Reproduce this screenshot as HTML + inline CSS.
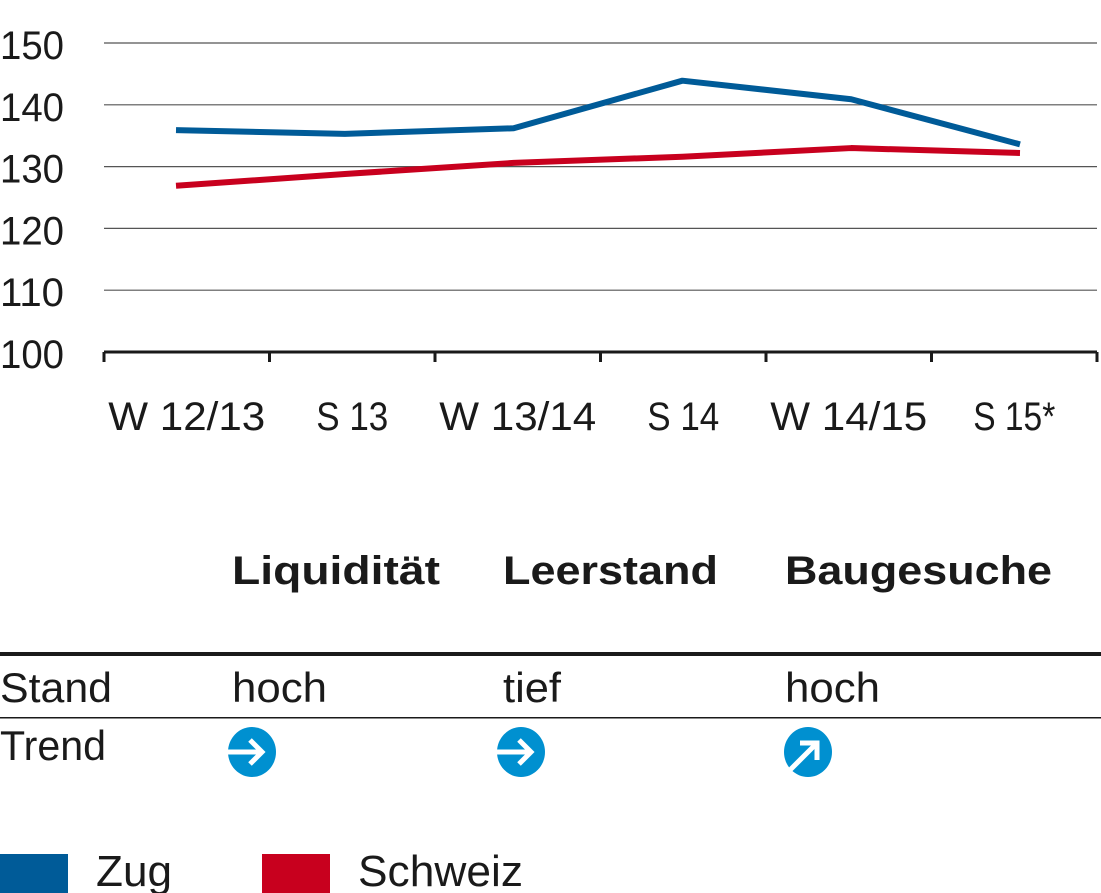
<!DOCTYPE html>
<html><head><meta charset="utf-8"><style>
html,body{margin:0;padding:0;background:#fff;}
svg{display:block;font-family:"Liberation Sans",sans-serif;}
</style></head><body>
<svg id="c" width="1101" height="893" viewBox="0 0 1101 893">
<g id="grid"></g><g id="axis"></g><g id="series"></g>
<g fill="#1a1a1a">
 <text x="232" y="584" font-size="40" font-weight="bold" textLength="208" lengthAdjust="spacingAndGlyphs">Liquidität</text>
 <text x="503" y="584" font-size="40" font-weight="bold" textLength="215" lengthAdjust="spacingAndGlyphs">Leerstand</text>
 <text x="785" y="584" font-size="40" font-weight="bold" textLength="267" lengthAdjust="spacingAndGlyphs">Baugesuche</text>
 <rect x="0" y="652" width="1101" height="4" fill="#1a1a1a"/>
 <rect x="0" y="717" width="1101" height="1.5" fill="#1a1a1a"/>
 <text x="0" y="702" font-size="42" textLength="112" lengthAdjust="spacingAndGlyphs">Stand</text>
 <text x="232" y="702" font-size="42" textLength="95" lengthAdjust="spacingAndGlyphs">hoch</text>
 <text x="503" y="702" font-size="42" textLength="58" lengthAdjust="spacingAndGlyphs">tief</text>
 <text x="785" y="702" font-size="42" textLength="95" lengthAdjust="spacingAndGlyphs">hoch</text>
 <text x="0" y="760" font-size="42" textLength="106" lengthAdjust="spacingAndGlyphs">Trend</text>
 <g transform="translate(252,752)">
  <ellipse rx="24" ry="25" fill="#0090d0"/><path d="M-24,0 H10 M-2,-12 L10,0 L-2,12" stroke="#fff" stroke-width="5" fill="none"/></g>
 <g transform="translate(521,752)">
  <ellipse rx="24" ry="25" fill="#0090d0"/><path d="M-24,0 H10 M-2,-12 L10,0 L-2,12" stroke="#fff" stroke-width="5" fill="none"/></g>
 <g transform="translate(808,752)">
  <ellipse rx="24" ry="25" fill="#0090d0"/><path d="M-18,18 L8,-8 M-8,-9 H9 V8" stroke="#fff" stroke-width="5" fill="none"/></g>
</g>
<g>
 <rect x="0" y="854" width="68" height="39" fill="#005b98"/>
 <text x="96" y="886" font-size="44" fill="#1a1a1a" textLength="76" lengthAdjust="spacingAndGlyphs">Zug</text>
 <rect x="262" y="854" width="68" height="39" fill="#c8001e"/>
 <text x="358" y="886" font-size="44" fill="#1a1a1a" textLength="165" lengthAdjust="spacingAndGlyphs">Schweiz</text>
</g>
</svg>
<script>
const categories=["W 12/13","S 13","W 13/14","S 14","W 14/15","S 15*"];
const zugValues=[135.9,135.3,136.2,143.9,140.9,133.6];
const schweizValues=[126.9,128.8,130.6,131.6,133.0,132.2];
const yTicks=[100,110,120,130,140,150];
const NS="http://www.w3.org/2000/svg";
const x0=104,x1=1097,yBase=352,yTop=43,vMin=100,vMax=150;
const labelWidths={"W 12/13":157,"S 13":72,"W 13/14":157,"S 14":72,"W 14/15":157,"S 15*":82};
function xScale(i){return x0+(i+0.5)*(x1-x0)/categories.length;}
function xLine(i){return 176+i*(1020-176)/(categories.length-1);}
function yScale(v){return yBase-(v-vMin)/(vMax-vMin)*(yBase-yTop);}
function mk(tag,attrs,parent){const e=document.createElementNS(NS,tag);for(const k in attrs)e.setAttribute(k,attrs[k]);parent.appendChild(e);return e;}
const grid=document.getElementById('grid'),axis=document.getElementById('axis'),series=document.getElementById('series');
yTicks.forEach(v=>{
 const y=yScale(v);
 if(v>vMin){const l=mk('line',{x1:x0,x2:x1,y1:y,y2:y,stroke:'#555','stroke-width':1.2},grid);
  
  }
 const t=mk('text',{x:0,y:y+16,'font-size':40,fill:'#1a1a1a',textLength:64,lengthAdjust:'spacingAndGlyphs'},axis);
 t.textContent=v;
 
 
});
const ax=mk('line',{x1:x0,x2:x1,y1:yBase,y2:yBase,stroke:'#1a1a1a','stroke-width':3},axis);


for(let i=0;i<=categories.length;i++){
 const x=x0+i*(x1-x0)/categories.length;
 const tk=mk('line',{x1:x,x2:x,y1:yBase,y2:yBase+10,stroke:'#1a1a1a','stroke-width':3},axis);
 
 
}
categories.forEach((c,i)=>{
 const w=labelWidths[c]||100;
 const t=mk('text',{x:xScale(i)-w/2,y:430,'font-size':40,fill:'#1a1a1a',textLength:w,lengthAdjust:'spacingAndGlyphs'},axis);
 t.textContent=c;
 
 
});
function line(vals,color,name){
 const d=vals.map((v,i)=>(i?'L':'M')+xLine(i)+','+yScale(v)).join(' ');
 const p=mk('path',{d:d,stroke:color,'stroke-width':6,fill:'none','stroke-linejoin':'round'},series);
 
 
}
line(schweizValues,'#c8001e','line-schweiz');
line(zugValues,'#005b98','line-zug');
</script>
</body></html>
